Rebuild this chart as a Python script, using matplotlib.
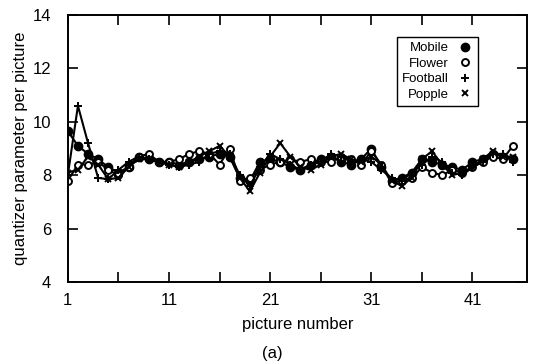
import numpy as np
import matplotlib
matplotlib.use("Agg")
import matplotlib.pyplot as plt

plt.rcParams['font.family'] = ['Liberation Sans', 'DejaVu Sans']

pictures = list(range(1, 46))

mobile = [9.65, 9.1, 8.8, 8.6, 8.3, 8.1, 8.3, 8.7, 8.6, 8.5, 8.5, 8.4, 8.5, 8.6, 8.7,
          8.8, 8.7, 7.9, 7.8, 8.5, 8.6, 8.5, 8.3, 8.2, 8.4, 8.6, 8.7, 8.5, 8.4, 8.6,
          9.0, 8.3, 7.8, 7.9, 8.1, 8.6, 8.5, 8.4, 8.3, 8.2, 8.5, 8.6, 8.8, 8.7, 8.6]
flower = [7.8, 8.4, 8.4, 8.5, 8.2, 8.0, 8.3, 8.7, 8.8, 8.5, 8.5, 8.6, 8.8, 8.9, 8.8,
          8.4, 9.0, 7.8, 7.9, 8.2, 8.4, 8.5, 8.6, 8.5, 8.6, 8.5, 8.5, 8.7, 8.6, 8.4,
          8.9, 8.4, 7.7, 7.8, 7.9, 8.3, 8.1, 8.0, 8.2, 8.1, 8.3, 8.5, 8.7, 8.6, 9.1]
football = [8.0, 10.6, 9.2, 7.9, 7.85, 8.2, 8.5, 8.7, 8.6, 8.5, 8.4, 8.3, 8.4, 8.5, 8.8,
            8.9, 8.8, 8.0, 7.6, 8.3, 8.8, 8.6, 8.4, 8.2, 8.4, 8.5, 8.8, 8.7, 8.5, 8.6,
            8.5, 8.2, 7.9, 7.8, 8.1, 8.4, 8.7, 8.5, 8.1, 8.0, 8.3, 8.5, 8.8, 8.8, 8.5]
popple = [8.1, 8.2, 8.7, 8.4, 7.85, 7.9, 8.3, 8.6, 8.6, 8.5, 8.4, 8.3, 8.5, 8.7, 8.9,
          9.1, 8.7, 7.9, 7.4, 8.1, 8.7, 9.2, 8.7, 8.3, 8.2, 8.4, 8.7, 8.8, 8.6, 8.5,
          8.7, 8.4, 7.8, 7.6, 7.9, 8.6, 8.9, 8.4, 8.0, 8.1, 8.3, 8.6, 8.9, 8.7, 8.7]

fig = plt.figure(figsize=(5.34, 3.64), dpi=100)
ax = fig.add_axes([0.127, 0.225, 0.86, 0.734])

ax.plot(pictures, mobile, color='black', lw=1.5, marker='o', ms=6, label='Mobile')
ax.plot(pictures, flower, color='black', lw=1.5, marker='o', ms=5, mfc='white', mew=1.4, label='Flower')
ax.plot(pictures, football, color='black', lw=1.5, marker='+', ms=6, mew=1.4, label='Football')
ax.plot(pictures, popple, color='black', lw=1.5, marker='x', ms=5, mew=1.4, label='Popple')

ax.set_xlim(1, 46.4)
ax.set_ylim(4, 14)
ax.set_xticks([1, 11, 21, 31, 41])
ax.set_xticks([6, 16, 26, 36], minor=True)
ax.set_yticks([4, 6, 8, 10, 12, 14])
ax.tick_params(which='both', direction='in', top=True, right=True, length=7, width=1.2,
               labelsize=12)
ax.tick_params(axis='x', pad=8)
ax.tick_params(axis='y', pad=12)
for s in ax.spines.values():
    s.set_linewidth(1.4)

ax.set_xlabel('picture number', fontsize=12, labelpad=6)
ax.set_ylabel('quantizer parameter per picture', fontsize=12, labelpad=3)
fig.text(0.51, 0.03, '(a)', ha='center', va='center', fontsize=12)

# markerfirst=False right-aligns the entries, so the labels line up on the right
leg = ax.legend(loc='upper right', bbox_to_anchor=(0.893, 0.918), borderaxespad=0,
                markerfirst=False, handlelength=1.2, handletextpad=0.6, borderpad=0.4,
                labelspacing=0.25, fontsize=9.5, fancybox=False, framealpha=1,
                edgecolor='black')
for h in leg.legend_handles:
    h.set_linestyle('None')
leg.get_frame().set_linewidth(1.0)

fig.savefig('out.png', dpi=100)
